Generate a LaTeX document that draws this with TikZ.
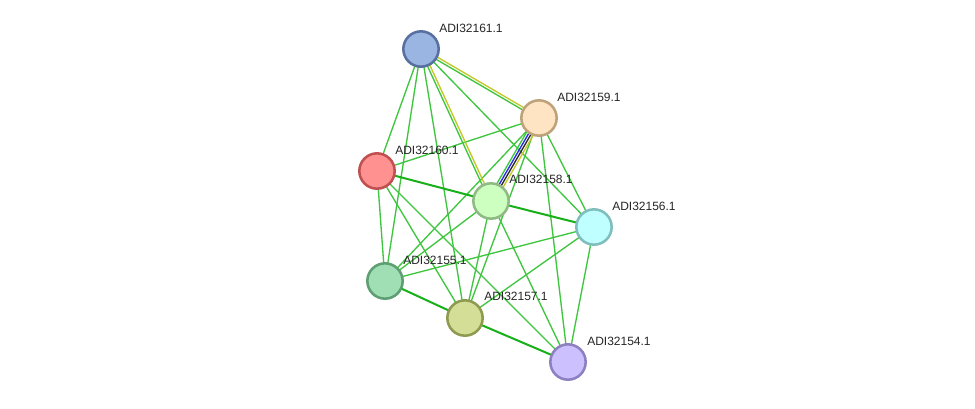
\documentclass[tikz,border=0pt]{standalone}
\usepackage{fontspec}
\setmainfont{Liberation Sans}
\usetikzlibrary{calc}
\pgfdeclarelayer{background}
\pgfsetlayers{background,main}
\definecolor{VerdeArista}{RGB}{62,198,62}
\definecolor{VerdeFuerte}{RGB}{24,176,24}
\definecolor{AmarilloTexto}{RGB}{196,200,40}
\definecolor{AzulCoocur}{RGB}{40,40,235}
\definecolor{NegroCoexp}{RGB}{40,40,40}

\begin{document}
\begin{tikzpicture}[x=0.75pt,y=-0.75pt,
  proteina/.style={circle,minimum size=26.5pt,inner sep=0pt,line width=1.9pt},
  etiq/.style={anchor=west,inner sep=0pt,font=\fontsize{9}{10}\selectfont,text=black!85},
  arista/.style={VerdeArista,line width=1pt},
  gruesa/.style={VerdeFuerte,line width=1.5pt}]
  \useasboundingbox (0,0) rectangle (975,408);

  % proteinas
  \node[proteina,draw={rgb,255:red,88;green,112;blue,160},fill={rgb,255:red,154;green,181;blue,225}] (n161) at (421,49) {};
  \node[proteina,draw={rgb,255:red,190;green,162;blue,122},fill={rgb,255:red,255;green,228;blue,196}] (n159) at (539,118) {};
  \node[proteina,draw={rgb,255:red,192;green,80;blue,80},fill={rgb,255:red,255;green,145;blue,145}] (n160) at (377,171) {};
  \node[proteina,draw={rgb,255:red,143;green,186;blue,132},fill={rgb,255:red,204;green,255;blue,192}] (n158) at (491,201) {};
  \node[proteina,draw={rgb,255:red,128;green,190;blue,190},fill={rgb,255:red,192;green,255;blue,255}] (n156) at (594,227) {};
  \node[proteina,draw={rgb,255:red,94;green,158;blue,115},fill={rgb,255:red,159;green,223;blue,179}] (n155) at (385,281) {};
  \node[proteina,draw={rgb,255:red,142;green,154;blue,80},fill={rgb,255:red,212;green,222;blue,150}] (n157) at (465,318) {};
  \node[proteina,draw={rgb,255:red,142;green,128;blue,192},fill={rgb,255:red,204;green,192;blue,255}] (n154) at (568,362) {};

  \node[etiq] (l161) at (439,28) {ADI32161.1};
  \node[etiq] (l159) at (557,97) {ADI32159.1};
  \node[etiq] (l160) at (395,150) {ADI32160.1};
  \node[etiq] (l158) at (509,179) {ADI32158.1};
  \node[etiq] (l156) at (612,206) {ADI32156.1};
  \node[etiq] (l155) at (403,260) {ADI32155.1};
  \node[etiq] (l157) at (484,296) {ADI32157.1};
  \node[etiq] (l154) at (587,341) {ADI32154.1};

  % interacciones
  \begin{pgfonlayer}{background}
    \fill[white] (0,0) rectangle (975,408);
    \foreach \a/\b in {161/160,161/155,161/157,161/156,160/159,160/155,160/157,160/154,
                       159/155,159/157,159/156,159/154,158/155,158/157,158/154,
                       156/155,156/157,156/154}
      \draw[arista] (n\a.center) -- (n\b.center);
    \foreach \a/\b in {160/158,158/156,155/157,157/154}
      \draw[gruesa] (n\a.center) -- (n\b.center);
    % lineas dobles y multiples
    \foreach \d/\c in {-0.95/VerdeArista,0.95/AmarilloTexto}{
      \draw[arista,\c] ($(n161.center)!\d pt!90:(n159.center)$) -- ($(n159.center)!\d pt!-90:(n161.center)$);
      \draw[arista,\c] ($(n161.center)!\d pt!90:(n158.center)$) -- ($(n158.center)!\d pt!-90:(n161.center)$);
    }
    \foreach \d/\c in {2.7/VerdeArista,0.9/AzulCoocur,-0.9/NegroCoexp,-2.7/AmarilloTexto}
      \draw[arista,\c] ($(n158.center)!\d pt!90:(n159.center)$) -- ($(n159.center)!\d pt!-90:(n158.center)$);
  \end{pgfonlayer}
\end{tikzpicture}
\end{document}
